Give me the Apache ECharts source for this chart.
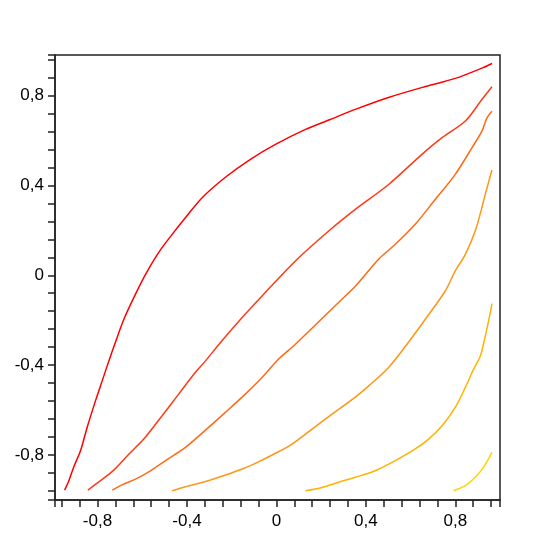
<!DOCTYPE html>
<html>
<head>
<meta charset="utf-8">
<script src="https://cdn.jsdelivr.net/npm/echarts@6/dist/echarts.min.js"></script>
<style>
  html, body { margin: 0; padding: 0; background: #fff; }
  #main { width: 556px; height: 556px; }
</style>
</head>
<body>
<div id="main"></div>
<script>
// curves, red -> yellow
var c1x = [-0.947, -0.928, -0.906, -0.876, -0.846, -0.809, -0.779, -0.749, -0.723, -0.682, -0.630, -0.585, -0.526, -0.466, -0.407, -0.332, -0.228, -0.116, -0.004, 0.130, 0.241, 0.353, 0.501, 0.653, 0.800, 0.925, 0.965];
var c1y = [-0.956, -0.914, -0.853, -0.781, -0.676, -0.559, -0.470, -0.381, -0.307, -0.196, -0.084, 0.004, 0.102, 0.182, 0.256, 0.345, 0.436, 0.516, 0.582, 0.649, 0.693, 0.738, 0.791, 0.836, 0.876, 0.924, 0.942];

var c2x = [-0.843, -0.794, -0.727, -0.660, -0.593, -0.511, -0.437, -0.362, -0.317, -0.250, -0.153, -0.064, 0.093, 0.234, 0.353, 0.502, 0.651, 0.741, 0.845, 0.919, 0.964];
var c2y = [-0.956, -0.919, -0.867, -0.796, -0.729, -0.625, -0.529, -0.432, -0.381, -0.299, -0.188, -0.092, 0.071, 0.197, 0.293, 0.404, 0.538, 0.612, 0.686, 0.782, 0.839];

var c3x = [-0.734, -0.690, -0.630, -0.563, -0.496, -0.407, -0.317, -0.228, -0.139, -0.064, 0.010, 0.085, 0.278, 0.353, 0.457, 0.532, 0.621, 0.711, 0.800, 0.875, 0.919, 0.942, 0.964];
var c3y = [-0.956, -0.933, -0.907, -0.870, -0.825, -0.766, -0.689, -0.610, -0.529, -0.455, -0.373, -0.307, -0.121, -0.049, 0.071, 0.138, 0.227, 0.338, 0.449, 0.568, 0.641, 0.701, 0.730];

var c4x = [-0.466, -0.407, -0.317, -0.228, -0.153, -0.094, -0.004, 0.070, 0.189, 0.249, 0.353, 0.413, 0.502, 0.584, 0.666, 0.755, 0.800, 0.845, 0.889, 0.919, 0.934, 0.964];
var c4y = [-0.959, -0.941, -0.918, -0.889, -0.862, -0.837, -0.792, -0.751, -0.662, -0.618, -0.542, -0.492, -0.410, -0.307, -0.196, -0.070, 0.019, 0.093, 0.197, 0.301, 0.360, 0.468];

var c5x = [0.130, 0.204, 0.278, 0.353, 0.442, 0.532, 0.621, 0.681, 0.741, 0.800, 0.845, 0.882, 0.912, 0.926, 0.949, 0.964];
var c5y = [-0.959, -0.944, -0.921, -0.899, -0.870, -0.825, -0.773, -0.729, -0.670, -0.588, -0.499, -0.418, -0.359, -0.307, -0.203, -0.126];

var c6x = [0.792, 0.845, 0.889, 0.926, 0.964];
var c6y = [-0.959, -0.936, -0.899, -0.855, -0.788];

var curveColors = ['#ff0000', '#ff3a14', '#ff6a14', '#ff9614', '#ffb300', '#ffd400'];

// tick positions and labelled ticks
var xTicks = [-0.99, -0.96, -0.88, -0.8, -0.72, -0.64, -0.56, -0.48, -0.4, -0.32, -0.24, -0.16, -0.08, 0, 0.08, 0.16, 0.24, 0.32, 0.4, 0.48, 0.56, 0.64, 0.72, 0.8, 0.88, 0.96, 1.0];
var yTicks = [-1.0, -0.96, -0.88, -0.8, -0.72, -0.64, -0.56, -0.48, -0.4, -0.32, -0.24, -0.16, -0.08, 0, 0.08, 0.16, 0.24, 0.32, 0.4, 0.48, 0.56, 0.64, 0.72, 0.8, 0.88, 0.96, 0.98];
var xLabels = [-0.8, -0.4, 0, 0.4, 0.8];
var yLabels = [-0.8, -0.4, 0, 0.4, 0.8];

function pairs(xs, ys) {
    var out = [];
    for (var i = 0; i < xs.length; i++) out.push([xs[i], ys[i]]);
    return out;
}

function fmt(v) {
    if (Math.abs(v) < 1e-9) return '0';
    return String(v).replace('.', ',');
}

var curves = [[c1x, c1y], [c2x, c2y], [c3x, c3y], [c4x, c4y], [c5x, c5y], [c6x, c6y]];

var myChart = echarts.init(document.getElementById('main'), null, { renderer: 'canvas' });

var axisCommon = {
    type: 'value',
    splitLine: { show: false },
    axisLine: { show: true, onZero: false, lineStyle: { color: '#222', width: 1.5 } },
    axisTick: { show: true, inside: false, length: 7, lineStyle: { color: '#222', width: 1.5 } }
};

var option = {
    animation: false,
    backgroundColor: '#fff',
    grid: {
        left: 55, top: 55, width: 445, height: 445,
        show: true, borderColor: '#222', borderWidth: 1.5, backgroundColor: 'transparent'
    },
    xAxis: echarts.util.merge({
        min: -0.99, max: 1.0,
        axisTick: { customValues: xTicks },
        axisLabel: {
            customValues: xLabels, formatter: fmt, margin: 13,
            color: '#000', fontSize: 17, fontFamily: 'Liberation Sans, Arial, sans-serif'
        }
    }, axisCommon),
    yAxis: echarts.util.merge({
        min: -1.0, max: 0.98,
        axisTick: { customValues: yTicks },
        axisLabel: {
            customValues: yLabels, formatter: fmt, margin: 11, padding: [6, 0, 0, 0],
            color: '#000', fontSize: 17, fontFamily: 'Liberation Sans, Arial, sans-serif'
        }
    }, axisCommon),
    series: curves.map(function (c, i) {
        return {
            type: 'line',
            data: pairs(c[0], c[1]),
            showSymbol: false,
            smooth: 0.3,
            lineStyle: { color: curveColors[i], width: 1.5 },
            itemStyle: { color: curveColors[i] }
        };
    })
};

myChart.setOption(option);
</script>
</body>
</html>
